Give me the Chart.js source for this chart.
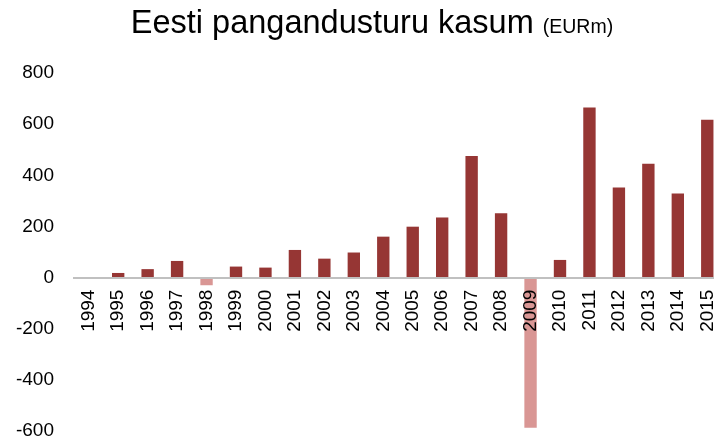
<!DOCTYPE html>
<html>
<head>
<meta charset="utf-8">
<script src="https://cdn.jsdelivr.net/npm/chart.js@4.4.1/dist/chart.umd.min.js"></script>
<style>
  html, body { margin: 0; padding: 0; background: #fff; overflow: hidden; }
  #wrap { position: relative; width: 722px; height: 441px; }
</style>
</head>
<body>
<div id="wrap"><canvas id="profitChart"></canvas></div>
<script>
const years = ['1994', '1995', '1996', '1997', '1998', '1999', '2000', '2001', '2002', '2003', '2004',
  '2005', '2006', '2007', '2008', '2009', '2010', '2011', '2012', '2013', '2014', '2015'];
const profit = [2, 18, 33, 65, -30, 43, 39, 108, 74, 98, 160,
  199, 235, 475, 252, -587, 69, 665, 352, 445, 329, 617];
const yTicks = [-600, -400, -200, 0, 200, 400, 600, 800];

const titleMain = 'Eesti pangandusturu kasum';
const titleUnit = '(EURm)';

// title has two font sizes, so draw it by hand
const titlePlugin = {
  id: 'mixedTitle',
  afterDraw(chart) {
    const ctx = chart.ctx;
    ctx.save();
    const bigFont = '32.5px "Liberation Sans", Arial, sans-serif';
    const smallFont = '19.5px "Liberation Sans", Arial, sans-serif';
    ctx.font = bigFont;
    const w1 = ctx.measureText(titleMain + ' ').width;
    ctx.font = smallFont;
    const w2 = ctx.measureText(titleUnit).width;
    let x = 372 - (w1 + w2) / 2;
    const y = 33;
    ctx.fillStyle = '#000';
    ctx.textBaseline = 'alphabetic';
    ctx.textAlign = 'left';
    ctx.font = bigFont;
    ctx.fillText(titleMain, x, y);
    ctx.font = smallFont;
    ctx.fillText(titleUnit, x + w1, y);
    ctx.restore();
  }
};

new Chart(document.getElementById('profitChart').getContext('2d'), {
  type: 'bar',
  data: {
    labels: years,
    datasets: [{
      label: 'Kasum',
      data: profit,
      backgroundColor: profit.map(v => v < 0 ? '#d99694' : '#963634'),
      borderWidth: 0,
      categoryPercentage: 1,
      barPercentage: 0.42
    }]
  },
  options: {
    responsive: true,
    maintainAspectRatio: false,
    animation: false,
    layout: { padding: { top: 73, bottom: 10, left: 0, right: 0 } },
    plugins: {
      legend: { display: false },
      title: { display: false },
      tooltip: { enabled: false }
    },
    scales: {
      x: {
        position: { y: 0 },
        afterFit: scale => {
          scale.height = 0;
          scale.paddingLeft = 0;
          scale.paddingRight = 0;
        },
        grid: { display: false, drawTicks: false },
        border: { display: true, color: '#c0c0c0', width: 2, z: 1 },
        ticks: {
          z: 1,
          minRotation: 90,
          maxRotation: 90,
          autoSkip: false,
          padding: 12,
          color: '#000',
          font: { family: '"Liberation Sans", Arial, sans-serif', size: 19 }
        }
      },
      y: {
        min: -600,
        max: 800,
        afterBuildTicks: scale => { scale.ticks = yTicks.map(v => ({ value: v })); },
        afterFit: scale => {
          scale.width = 74;
          scale.paddingTop = 0;
          scale.paddingBottom = 0;
        },
        grid: { display: false, drawTicks: false },
        border: { display: false },
        ticks: {
          padding: 20,
          color: '#000',
          font: { family: '"Liberation Sans", Arial, sans-serif', size: 19 }
        }
      }
    }
  },
  plugins: [titlePlugin]
});
</script>
</body>
</html>
